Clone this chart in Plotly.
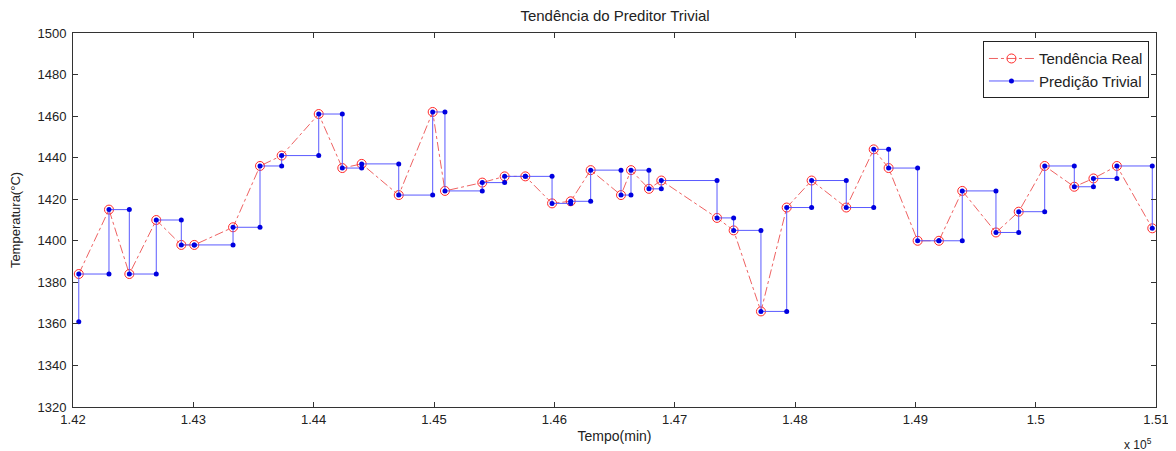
import plotly.graph_objects as go

# Time (minutes)
tempo = [142048, 142299, 142468, 142692, 142900, 143008, 143330, 143554, 143734, 144042,
         144238, 144399, 144707, 144989, 145091, 145401, 145587, 145759, 145981, 146136,
         146302, 146554, 146637, 146786, 146889, 147352, 147490, 147717, 147931, 148138,
         148426, 148654, 148778, 149019, 149196, 149390, 149670, 149859, 150075, 150321,
         150480, 150675, 150969]

# Real temperature trend (°C)
real = [1384, 1415, 1384, 1410, 1398, 1398, 1406.5, 1436, 1441, 1461,
        1435, 1437, 1422, 1462, 1424, 1428, 1431, 1431, 1418, 1419,
        1434, 1422, 1434, 1425, 1429, 1411, 1405, 1366, 1416, 1429,
        1416, 1444, 1435, 1400, 1400, 1424, 1404, 1414, 1436, 1426,
        1430, 1436, 1406]

# Trivial prediction (previous value)
pred = [1361] + real[:-1]

x_ticks = [142000 + 1000 * i for i in range(10)]
x_ticktext = ["1.42", "1.43", "1.44", "1.45", "1.46", "1.47", "1.48", "1.49", "1.5", "1.51"]
y_ticks = list(range(1320, 1501, 20))

# blue step line: prediction point then actual point at each time
bx, by = [], []
for t, p, r in zip(tempo, pred, real):
    bx += [t, t]
    by += [p, r]

FONT = "Liberation Sans, Arial"

fig = go.Figure()
fig.add_trace(go.Scatter(
    x=tempo, y=real, mode="lines+markers", name="Tendência Real",
    line=dict(color="rgba(235,70,70,0.85)", width=1, dash="dashdot"),
    marker=dict(symbol="circle-open", size=9, color="#ff2a2a", line=dict(width=1)),
))
fig.add_trace(go.Scatter(
    x=bx, y=by, mode="lines+markers", name="Predição Trivial",
    line=dict(color="#5a5aff", width=1),
    marker=dict(symbol="circle", size=5, color="#0000e0"),
))

axis_common = dict(showline=True, linecolor="#333", linewidth=1, mirror="ticks",
                   ticks="inside", ticklen=5, tickcolor="#333", showgrid=False,
                   zeroline=False, automargin=False,
                   tickfont=dict(family=FONT, size=13, color="#222"))

# page has an 8px body margin, so the figure is sized to fill the rest of the window
fig.update_layout(
    width=1168, height=443,
    margin=dict(l=65, r=20, t=25, b=44),
    paper_bgcolor="white", plot_bgcolor="white",
    title=dict(text="Tendência do Preditor Trivial", x=0.5197, xanchor="center",
               xref="container", yref="container", y=0.982, yanchor="middle",
               font=dict(family=FONT, size=15, color="#222")),
    xaxis=dict(range=[142000, 151000], tickvals=x_ticks, ticktext=x_ticktext,
               title=dict(text="Tempo(min)", standoff=5,
                          font=dict(family=FONT, size=14, color="#222")),
               **axis_common),
    yaxis=dict(range=[1320, 1500], tickvals=y_ticks, ticklabelstandoff=3,
               title=dict(text="Temperatura(°C)", standoff=13,
                          font=dict(family=FONT, size=13, color="#222")),
               **axis_common),
    legend=dict(x=0.9935, y=0.978, xanchor="right", yanchor="top",
                bgcolor="white", bordercolor="#222", borderwidth=1,
                font=dict(family=FONT, size=15, color="#222"),
                tracegroupgap=0, itemwidth=45),
    showlegend=True,
)
fig.add_annotation(text="x 10<sup>5</sup>", xref="paper", yref="paper", x=0.9985, y=-0.1,
                   xanchor="right", yanchor="middle", showarrow=False,
                   font=dict(family=FONT, size=12, color="#222"))

fig.write_html("out.html")
